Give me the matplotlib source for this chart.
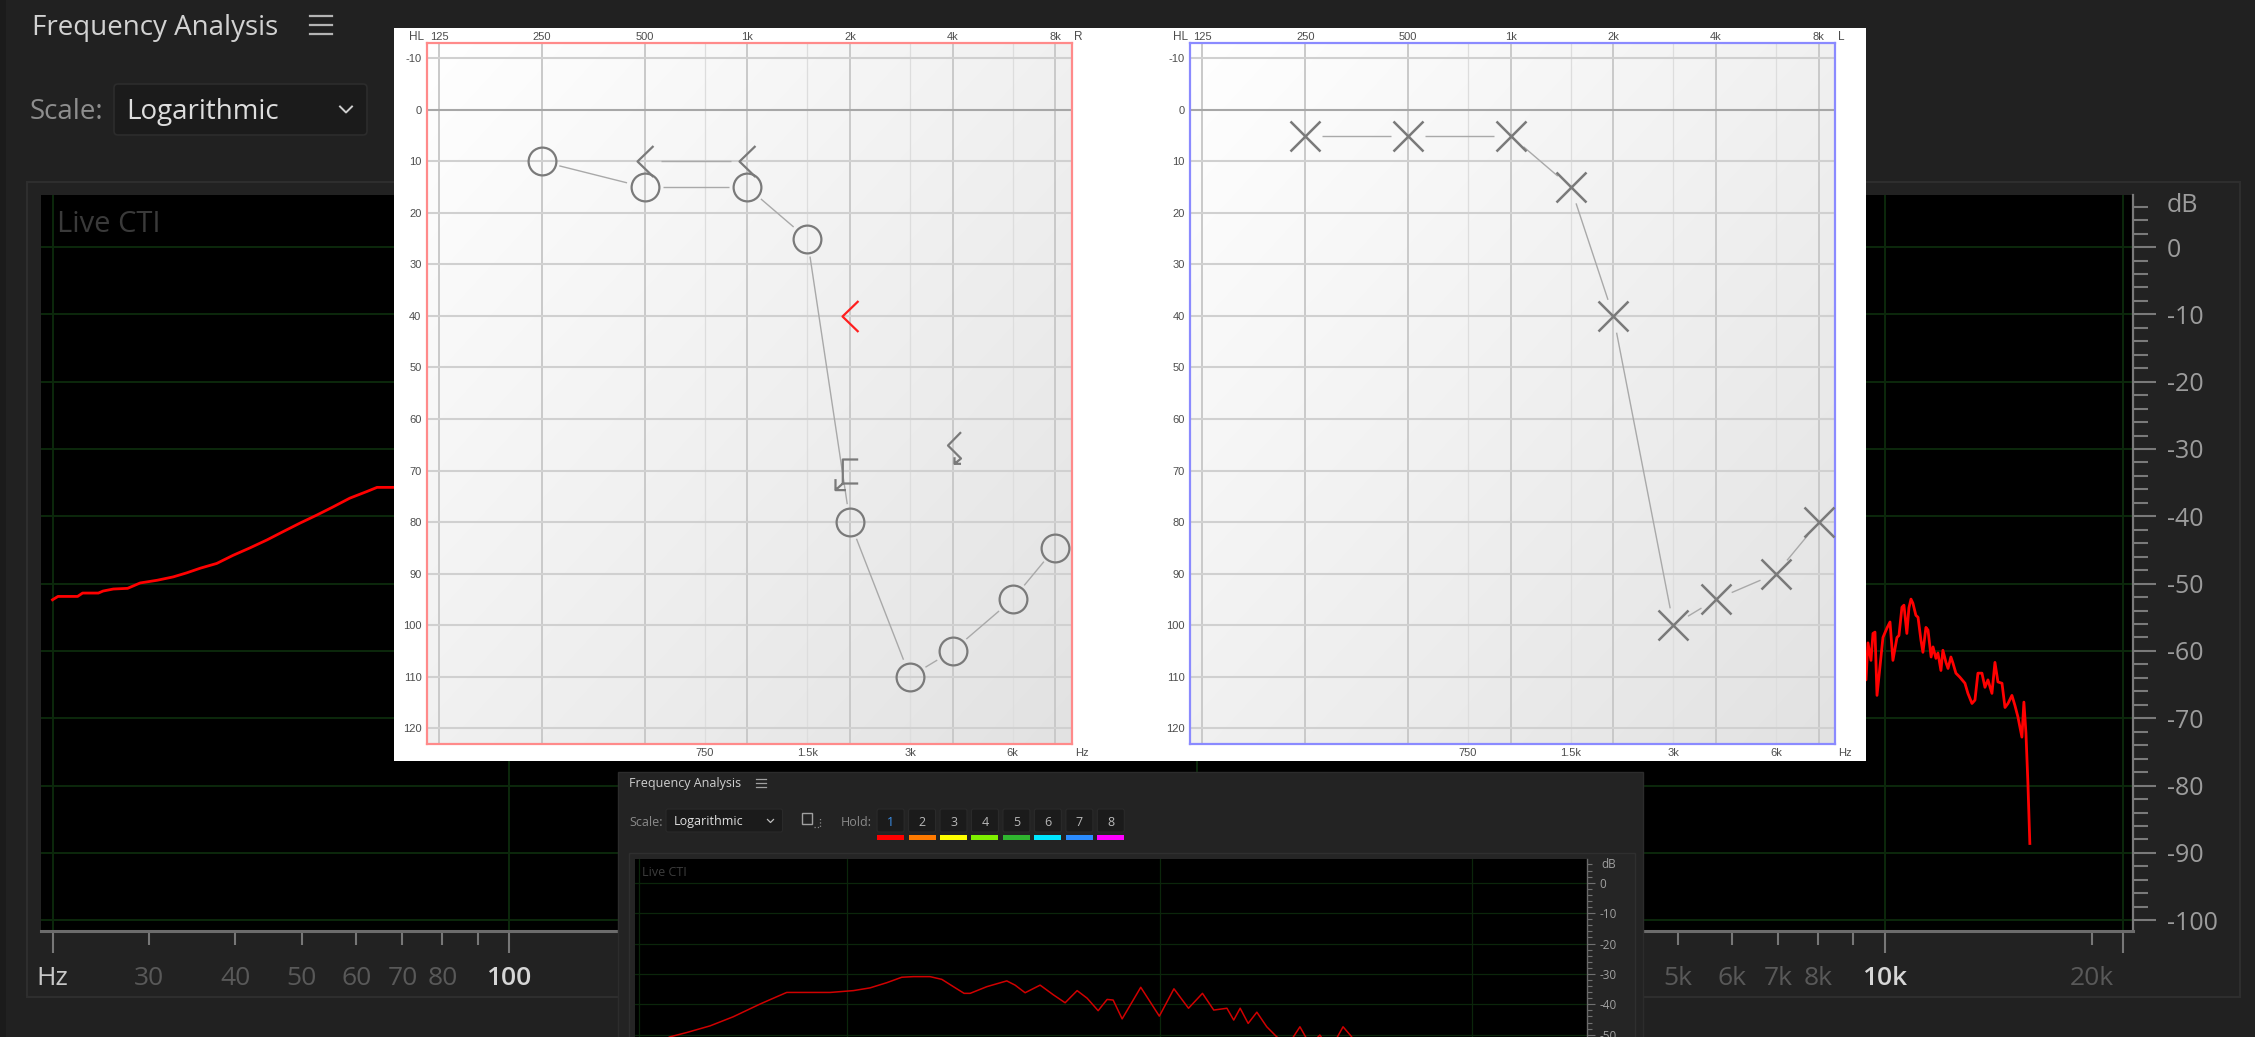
import numpy as np
import matplotlib
matplotlib.use("Agg")
import matplotlib.pyplot as plt
from matplotlib import transforms as mtransforms
from matplotlib.colors import LinearSegmentedColormap
from matplotlib.lines import Line2D
from matplotlib.patches import FancyBboxPatch, Rectangle
from matplotlib.path import Path

plt.rcParams['font.family'] = ['Open Sans', 'DejaVu Sans']

W, H = 2264, 1037

# --- analyser trace (big window), only the parts not covered by the audiogram
spec_low_hz = [21.7, 22.1, 23.6, 24.0, 25.3, 25.7, 26.6, 27.9, 29.1, 30.8, 32.5, 34.0, 35.6,
               37.6, 39.7, 42.0, 44.5, 46.9, 49.7, 52.6, 55.5, 58.7, 62.2, 64.3, 67.8, 76.8]
spec_low_db = [-52.4, -51.9, -51.9, -51.4, -51.4, -51.1, -50.8, -50.7, -49.9, -49.5, -49.0, -48.4,
               -47.7, -47.0, -45.8, -44.7, -43.5, -42.3, -41.0, -39.8, -38.6, -37.3, -36.3, -35.7,
               -35.7, -35.7]
spec_high_hz = [9200, 9385, 9447, 9543, 9607, 9672, 9737, 9833, 9933, 10067, 10170, 10270, 10410,
                10480, 10585, 10656, 10760, 10835, 10910, 10980, 11090, 11170, 11280, 11355, 11470,
                11550, 11670, 11745, 11860, 11940, 12060, 12140, 12265, 12350, 12470, 12555, 12680,
                12850, 13070, 13200, 13380, 13515, 13650, 13835, 13975, 14115, 14305, 14450, 14595,
                14795, 14945, 15095, 15295, 15450, 15605, 15815, 15920, 16030, 16135, 16240]
spec_high_db = [-62.0, -64.3, -58.8, -61.4, -57.4, -57.2, -66.6, -62.4, -58.0, -56.6, -55.7, -61.4,
                -58.0, -57.7, -53.5, -53.2, -57.4, -53.6, -52.3, -52.9, -54.7, -55.0, -58.4, -60.2,
                -56.5, -56.9, -60.9, -59.4, -61.1, -60.3, -62.9, -59.9, -61.7, -62.6, -60.9, -61.8,
                -63.3, -63.9, -64.8, -66.3, -67.8, -67.3, -63.3, -63.3, -65.4, -64.3, -66.3, -61.7,
                -64.6, -64.8, -68.4, -67.8, -66.6, -68.1, -69.8, -72.8, -67.6, -72.2, -79.6, -88.6]

# --- analyser trace (small window)
mini_hz = [21.8, 27.2, 30.7, 36.5, 43.3, 52.8, 59.7, 64.2, 88.4, 104.9, 118.6, 134.1, 149.8, 163.2,
           184.5, 201.2, 219.1, 237.1, 247.9, 280.3, 324.7, 345.2, 371.6, 415.0, 457.8, 498.9,
           545.1, 586.7, 636.3, 679.9, 710.6, 759.3, 870.9, 998.6, 1112, 1238, 1372, 1491, 1643,
           1727, 1811, 1921, 2048, 2203, 2371, 2578, 2813, 3033, 3257, 3514, 3864, 4118, 4383]
mini_db = [-55.0, -50.7, -49.3, -47.1, -44.1, -39.9, -37.5, -36.1, -36.1, -35.5, -34.6, -32.9, -31.1,
           -30.9, -30.9, -31.8, -34.2, -36.4, -36.4, -34.2, -32.3, -33.7, -36.2, -33.7, -36.9, -39.5,
           -35.5, -38.0, -42.1, -38.4, -38.6, -44.8, -34.4, -43.9, -34.9, -41.3, -36.4, -41.9, -41.3,
           -45.2, -41.3, -46.3, -42.6, -47.4, -50.7, -53.4, -47.4, -53.4, -50.1, -55.0, -47.4, -50.7,
           -56.7]

# frequency axis of the analyser
hz_long_ticks = [21.7, 100, 1000, 10000, 22200]
hz_short_ticks = [30, 40, 50, 60, 70, 80, 90, 200, 300, 400, 500, 600, 700, 800, 900,
                  2000, 3000, 4000, 5000, 6000, 7000, 8000, 9000, 20000]
hz_label_pos = [21.7, 30, 40, 50, 60, 70, 80, 100, 5000, 6000, 7000, 8000, 10000, 20000]
hz_label_txt = ['Hz', '30', '40', '50', '60', '70', '80', '100', '5k', '6k', '7k', '8k', '10k', '20k']
hz_label_hi = ['Hz', '100', '10k']

# --- audiogram thresholds (dB HL)
aud_hz = [250, 500, 1000, 1500, 2000, 3000, 4000, 6000, 8000]
right_air = [10, 15, 15, 25, 80, 110, 105, 95, 85]
left_air = [5, 5, 5, 15, 40, 100, 95, 90, 80]
right_bone_hz = [500, 1000]
right_bone_db = [10, 10]
red_bone_hz = [2000]
red_bone_db = [40]
masked_bone_hz = [2000]
masked_bone_db = [70]
noresp_bone_hz = [4000]
noresp_bone_db = [65]

aud_top_hz = [125, 250, 500, 1000, 2000, 4000, 8000]
aud_top_txt = ['125', '250', '500', '1k', '2k', '4k', '8k']
aud_mid_hz = [750, 1500, 3000, 6000]
aud_mid_txt = ['750', '1.5k', '3k', '6k']
aud_db_ticks = list(range(-10, 121, 10))

hold_colors = ['#ff0000', '#ff7a00', '#ffff00', '#7ff000', '#2fb52f', '#00e6ff', '#2b8cff', '#ff00ff']

fig = plt.figure(figsize=(W / 100, H / 100), dpi=100)
fig.patch.set_facecolor('#212121')
# pixel coordinates, origin top-left
pix = mtransforms.Affine2D().scale(1 / W, -1 / H).translate(0, 1) + fig.transFigure


def add_ax(x0, y0, x1, y1, z):
    ax = fig.add_axes([x0 / W, 1 - y1 / H, (x1 - x0) / W, (y1 - y0) / H])
    ax.set_zorder(z)
    return ax


def box(x0, y0, x1, y1, fc, ec='none', lw=0.0, z=0.5, r=0):
    if r:
        p = FancyBboxPatch((x0, y0), x1 - x0, y1 - y0, boxstyle=f'round,pad=0,rounding_size={r}',
                           transform=pix, facecolor=fc, edgecolor=ec, linewidth=lw, zorder=z)
    else:
        p = Rectangle((x0, y0), x1 - x0, y1 - y0, transform=pix, facecolor=fc,
                      edgecolor=ec, linewidth=lw, zorder=z)
    fig.add_artist(p)


def txt(x, y, s, size, color, z=0.6, ha='left', va='baseline', **kw):
    fig.text(x, y, s, transform=pix, fontsize=size, color=color, ha=ha, va=va, zorder=z, **kw)


def seg(xs, ys, color, lw, z=0.6, **kw):
    fig.add_artist(Line2D(xs, ys, transform=pix, color=color, linewidth=lw, zorder=z, **kw))


def gapped(ax, xs, ys, gap, **kw):
    """Join points with straight segments that stop short of the symbols."""
    pts = ax.transData.transform(np.column_stack([xs, ys]))
    inv = ax.transData.inverted()
    for p, q in zip(pts[:-1], pts[1:]):
        d = q - p
        n = np.hypot(*d)
        if n <= 2 * gap:
            continue
        u = d / n
        s = inv.transform(np.array([p + u * gap, q - u * gap]))
        ax.plot(s[:, 0], s[:, 1], solid_capstyle='butt', **kw)


# ---------------- big analyser window ----------------
box(0, 0, 6, H, '#1b1b1b', z=0.3)
txt(32, 35, 'Frequency Analysis', 20, '#d2d2d2')
for yy in (15.5, 24.5, 33.5):
    seg([310, 332], [yy, yy], '#b4b4b4', 1.6)
txt(30, 119, 'Scale:', 20, '#8e8e8e')
box(114, 84, 367, 135, '#1b1b1b', '#2c2c2c', 1.2, r=4)
txt(126, 119, 'Logarithmic', 20, '#dedede')
seg([340, 346, 352], [106.5, 112.5, 106.5], '#cfcfcf', 1.4)
box(27, 182, 2240, 997, '#222222', '#2e2e2e', 1.5, z=0.4)

ax = add_ax(41, 195, 2133, 931, 1)
ax.set_facecolor('black')
ax.set_xscale('log')
ax.set_xlim(20.88, 22937)
ax.set_ylim(-101.6, 7.73)
for d in range(-100, 1, 10):
    ax.axhline(d, color='#0c290c', lw=1.4, zorder=0.5)
for f in hz_long_ticks:
    ax.axvline(f, color='#0c290c', lw=1.4, zorder=0.5)
ax.plot(spec_low_hz, spec_low_db, color='#ff0000', lw=2.0)
ax.plot(spec_high_hz, spec_high_db, color='#ff0000', lw=2.0)

for s in ('top', 'left'):
    ax.spines[s].set_visible(False)
ax.spines['bottom'].set_color('#6c6c6c')
ax.spines['bottom'].set_linewidth(2.2)
ax.spines['right'].set_color('#7a7a7a')
ax.spines['right'].set_linewidth(1.6)

ax.set_xticks(hz_long_ticks)
ax.set_xticks(hz_short_ticks, minor=True)
ax.tick_params(axis='x', which='both', labelbottom=False, color='#777777', width=1.5)
ax.tick_params(axis='x', which='major', length=16)
ax.tick_params(axis='x', which='minor', length=10)
for f, s in zip(hz_label_pos, hz_label_txt):
    hi = s in hz_label_hi
    ax.text(f, -0.0734, s, transform=ax.get_xaxis_transform(), ha='center', va='baseline',
            fontsize=19, color=('#c8c8c8' if s == 'Hz' else '#d6d6d6') if hi else '#595959',
            fontweight='semibold' if hi and s != 'Hz' else 'normal', clip_on=False)

ax.yaxis.tick_right()
ax.set_yticks(list(range(-100, 1, 10)))
ax.set_yticklabels([str(v) for v in range(-100, 1, 10)])
ax.set_yticks([v for v in range(-100, 7, 2) if v % 10], minor=True)
ax.tick_params(axis='y', which='both', color='#7a7a7a', width=1.5)
ax.tick_params(axis='y', which='major', length=16.5, pad=8, labelsize=18, labelcolor='#9c9c9c')
ax.tick_params(axis='y', which='minor', length=10.8)
txt(2167, 212.5, 'dB', 18, '#9c9c9c')
txt(57, 232, 'Live CTI', 21, '#3a3a3a', z=1.5)

# ---------------- audiograms ----------------
box(394, 28, 1866, 761, 'white', z=2)
paper = LinearSegmentedColormap.from_list('paper', ['#ffffff', '#e2e2e2'])
grad = np.add.outer(np.linspace(0, 1, 200), np.linspace(0, 1, 200)) / 2

lt_path = [(8, 15.5), (-8, 0), (8, -15.5)]
M, L = Path.MOVETO, Path.LINETO
masked_path = Path([(7.7, 12), (-7.7, 12), (-7.7, -12), (7.7, -12),
                    (-7.7, -12), (-15, -18.6), (-15, -7.6), (-15, -18.6), (-4.6, -18.6)],
                   [M, L, L, L, M, L, M, L, L])
noresp_path = Path([(7.5, 13.3), (-5.5, 0), (7.5, -13), (1, -18.3),
                    (1, -11.7), (1, -18.3), (7.5, -18.3)],
                   [M, L, L, L, M, L, L])
sym = '#7a7a7a'
joint = dict(color='#a9a9a9', lw=1.0, zorder=2)


def audiogram(x0, edge, side):
    x1 = x0 + 645
    a = add_ax(x0, 43, x1, 744, 3)
    a.imshow(grad, extent=(0, 1, 0, 1), transform=a.transAxes, cmap=paper, aspect='auto',
             zorder=0, interpolation='bilinear')
    a.set_xscale('log', base=2)
    a.set_xlim(115.2, 8950)
    a.set_ylim(123.1, -13)
    for f in aud_top_hz:
        a.axvline(f, color='#c9c9c9', lw=1.4, zorder=1)
    for f in aud_mid_hz:
        a.axvline(f, color='#dddddd', lw=0.9, zorder=1)
    for d in aud_db_ticks:
        a.axhline(d, color='#a7a7a7' if d == 0 else '#d0d0d0', lw=1.5, zorder=1)
    for s in a.spines.values():
        s.set_color(edge)
        s.set_linewidth(1.6)
    a.set_xticks([])
    a.set_xticks([], minor=True)
    a.set_yticks(aud_db_ticks)
    a.set_yticklabels([str(v) for v in aud_db_ticks], family=['Liberation Sans', 'DejaVu Sans'])
    a.tick_params(axis='y', length=0, pad=4, labelsize=8, labelcolor='#4d4d4d')
    lab = dict(ha='center', va='baseline', fontsize=8, color='#4d4d4d',
               family=['Liberation Sans', 'DejaVu Sans'], clip_on=False)
    for f, s in zip(aud_top_hz, aud_top_txt):
        a.text(f, 1.0043, s, transform=a.get_xaxis_transform(), **lab)
    for f, s in zip(aud_mid_hz, aud_mid_txt):
        a.text(f, -0.0171, s, transform=a.get_xaxis_transform(), **lab)
    fam = ['Liberation Sans', 'DejaVu Sans']
    txt(x0 - 10, 40, 'HL', 8.5, '#4d4d4d', z=3.5, ha='center', family=fam)
    txt(x1 + 6, 40, side, 8.5, '#4d4d4d', z=3.5, ha='center', family=fam)
    txt(x1 + 10, 756, 'Hz', 8, '#4d4d4d', z=3.5, ha='center', family=fam)
    return a


ar = audiogram(427, '#ff8a8a', 'R')
gapped(ar, aud_hz, right_air, 18, **joint)
ar.plot(aud_hz, right_air, ls='none', marker='o', ms=20, mfc='none', mec=sym, mew=1.6, zorder=3)
gapped(ar, right_bone_hz, right_bone_db, 16.5, **joint)
ar.plot(right_bone_hz, right_bone_db, ls='none', marker=lt_path, ms=22.3, mfc='none',
        mec=sym, mew=1.6, zorder=3)
ar.plot(red_bone_hz, red_bone_db, ls='none', marker=lt_path, ms=22.3, mfc='none',
        mec='#ff1f1f', mew=1.6, zorder=3)
ar.plot(masked_bone_hz, masked_bone_db, ls='none', marker=masked_path, ms=26.8, mfc='none',
        mec=sym, mew=1.6, zorder=3)
ar.plot(noresp_bone_hz, noresp_bone_db, ls='none', marker=noresp_path, ms=26.4, mfc='none',
        mec=sym, mew=1.6, zorder=3)

al = audiogram(1190.4, '#8a8aff', 'L')
gapped(al, aud_hz, left_air, 17, **joint)
al.plot(aud_hz, left_air, ls='none', marker='x', ms=21, mec=sym, mew=1.8, zorder=3)

# ---------------- small analyser window ----------------
box(618, 772, 1643, H + 5, '#232323', '#2c2c2c', 1.0, z=4)
txt(629, 786.5, 'Frequency Analysis', 9, '#d0d0d0', z=6)
for yy in (778.5, 782.5, 786.5):
    seg([756, 766], [yy, yy], '#a0a0a0', 0.9, z=6)
txt(629, 825.5, 'Scale:', 9, '#8a8a8a', z=6)
box(666, 809, 782.5, 832, '#1b1b1b', '#2a2a2a', 0.8, z=5, r=2)
txt(674, 825.5, 'Logarithmic', 9, '#e0e0e0', z=6)
seg([767.5, 770.5, 773.5], [819.5, 822.5, 819.5], '#bdbdbd', 0.9, z=6)
box(802, 813, 812, 824, 'none', '#a0a0a0', 1.0, z=6)
seg([814, 820, 820], [827, 827, 817], '#8a8a8a', 0.9, z=6, ls=':')
txt(841, 825.5, 'Hold:', 9, '#8a8a8a', z=6)
for i, c in enumerate(hold_colors):
    cx = 890.6 + i * 31.46
    box(cx - 13.5, 809, cx + 13.5, 832, '#1b1b1b', '#2a2a2a', 0.8, z=5, r=2)
    txt(cx, 825.5, str(i + 1), 9, '#3a8ee6' if i == 0 else '#b8b8b8', z=6, ha='center')
    box(cx - 13.5, 835, cx + 13.5, 840, c, z=5)
box(628.6, 853, 1635, H + 5, '#252525', '#2f2f2f', 1.0, z=4.2)

am = add_ax(635, 859, 1587, H, 5)
am.set_facecolor('black')
am.set_xscale('log')
am.set_xlim(21.0, 23300)
am.set_ylim(-50.76, 7.8)
for d in range(-50, 1, 10):
    am.axhline(d, color='#0b260b', lw=0.9, zorder=0.5)
for f in hz_long_ticks[:4]:
    am.axvline(f, color='#0b260b', lw=0.9, zorder=0.5)
am.plot(mini_hz, mini_db, color='#d00000', lw=1.1)
for s in ('top', 'left', 'bottom'):
    am.spines[s].set_visible(False)
am.spines['right'].set_color('#6a6a6a')
am.spines['right'].set_linewidth(1.0)
am.set_xticks([])
am.set_xticks([], minor=True)
am.yaxis.tick_right()
am.set_yticks(list(range(-50, 1, 10)))
am.set_yticklabels([str(v) for v in range(-50, 1, 10)])
am.set_yticks([v for v in range(-50, 7, 2) if v % 10], minor=True)
am.tick_params(axis='y', which='both', color='#707070', width=0.8)
am.tick_params(axis='y', which='major', length=5.8, pad=3, labelsize=8.5, labelcolor='#a0a0a0')
am.tick_params(axis='y', which='minor', length=3.6)
txt(1601.6, 867.5, 'dB', 8.5, '#a0a0a0', z=6)
txt(642, 876.5, 'Live CTI', 9, '#3d3d3d', z=6)

box(2255, 0, W, H, 'white', z=10)

fig.savefig('out.png', dpi=100, facecolor=fig.get_facecolor())
